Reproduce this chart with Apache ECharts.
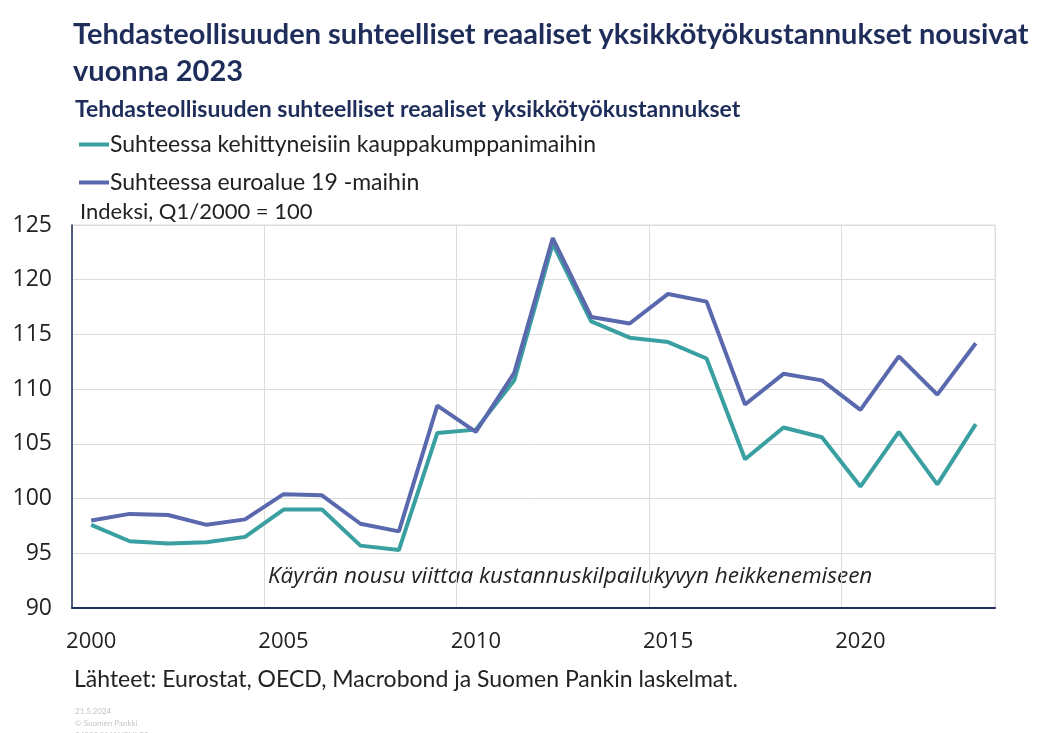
<!DOCTYPE html>
<html>
<head>
<meta charset="utf-8">
<script src="https://cdn.jsdelivr.net/npm/echarts@6/dist/echarts.min.js"></script>
<style>
  html, body { margin: 0; padding: 0; background: #fff; }
  #chart { width: 1037px; height: 733px; }
</style>
</head>
<body>
<div id="chart"></div>
<script>
// vuodet
const years = ['2000', '2001', '2002', '2003', '2004', '2005', '2006', '2007', '2008', '2009', '2010', '2011',
  '2012', '2013', '2014', '2015', '2016', '2017', '2018', '2019', '2020', '2021', '2022', '2023']
// suhteessa kehittyneisiin kauppakumppanimaihin
const developed = [97.6, 96.1, 95.9, 96.0, 96.5, 99.0, 99.0, 95.7, 95.3, 106.0, 106.3, 110.8,
  123.3, 116.2, 114.7, 114.3, 112.8, 103.6, 106.5, 105.6, 101.1, 106.1, 101.3, 106.8]
// suhteessa euroalue 19 -maihin
const euro19 = [98.0, 98.6, 98.5, 97.6, 98.1, 100.4, 100.3, 97.7, 97.0, 108.5, 106.1, 111.5,
  123.8, 116.6, 116.0, 118.7, 118.0, 108.6, 111.4, 110.8, 108.1, 113.0, 109.5, 114.2]
const seriesNames = ['Suhteessa kehittyneisiin kauppakumppanimaihin', 'Suhteessa euroalue 19 -maihin']

const navy = '#1f2d5a'
const teal = '#3a9fa1'
const blue = '#5a69ae'
const font = 'Open Sans'
const narrow = 'Lato'

const chart = echarts.init(document.getElementById('chart'))

chart.setOption({
  backgroundColor: '#fff',
  animation: false,
  title: [
    {
      text: 'Tehdasteollisuuden suhteelliset reaaliset yksikkötyökustannukset nousivat\nvuonna 2023',
      left: 68,
      top: 11,
      textStyle: { fontFamily: narrow, fontSize: 29, fontWeight: 'bold', color: navy, lineHeight: 37 }
    },
    {
      text: 'Tehdasteollisuuden suhteelliset reaaliset yksikkötyökustannukset',
      left: 70,
      top: 93,
      textStyle: { fontFamily: narrow, fontSize: 23, fontWeight: 'bold', color: navy }
    },
    {
      text: 'Indeksi, Q1/2000 = 100',
      left: 75,
      top: 196,
      textStyle: { fontFamily: narrow, fontSize: 22, fontWeight: 'normal', color: '#222' }
    },
    {
      text: 'Lähteet: Eurostat, OECD, Macrobond ja Suomen Pankin laskelmat.',
      left: 69,
      top: 663,
      textStyle: { fontFamily: narrow, fontSize: 23, fontWeight: 'normal', color: '#222' }
    },
    {
      text: '21.5.2024\n© Suomen Pankki\n34093@MANRULC2',
      left: 70,
      top: 700,
      textStyle: { fontFamily: narrow, fontSize: 8, fontWeight: 'normal', color: '#c4c4c4', lineHeight: 12 }
    }
  ],
  legend: {
    orient: 'vertical',
    left: 74,
    top: 128,
    itemWidth: 30,
    itemHeight: 4,
    itemGap: 15,
    icon: 'rect',
    textStyle: { fontFamily: narrow, fontSize: 23, color: '#222', padding: [0, 0, 0, -4] },
    data: seriesNames
  },
  grid: {
    left: 72,
    right: 42,
    top: 225,
    bottom: 125,
    show: true,
    borderColor: '#dcdcdc',
    borderWidth: 1
  },
  xAxis: {
    type: 'category',
    data: years,
    boundaryGap: true,
    axisLine: { lineStyle: { color: navy, width: 2 } },
    axisTick: { show: false },
    axisLabel: { interval: 4, margin: 23, fontFamily: font, fontSize: 22, color: '#222' },
    splitLine: { show: true, interval: 4, lineStyle: { color: '#dcdcdc', width: 1 } }
  },
  yAxis: {
    type: 'value',
    min: 90,
    max: 125,
    interval: 5,
    axisLine: { show: true, lineStyle: { color: navy, width: 1.5 } },
    axisTick: { show: false },
    axisLabel: { margin: 20, fontFamily: font, fontSize: 23, color: '#222' },
    splitLine: { lineStyle: { color: '#dcdcdc', width: 1 } }
  },
  graphic: [
    {
      type: 'text',
      left: 268,
      top: 565,
      style: {
        text: 'Käyrän nousu viittaa kustannuskilpailukyvyn heikkenemiseen',
        font: 'italic 22.5px "Open Sans"',
        fill: '#222'
      }
    }
  ],
  series: [
    {
      name: seriesNames[0],
      type: 'line',
      data: developed,
      symbol: 'none',
      color: teal,
      lineStyle: { width: 4, color: teal }
    },
    {
      name: seriesNames[1],
      type: 'line',
      data: euro19,
      symbol: 'none',
      color: blue,
      lineStyle: { width: 4, color: blue }
    }
  ]
})
</script>
</body>
</html>
